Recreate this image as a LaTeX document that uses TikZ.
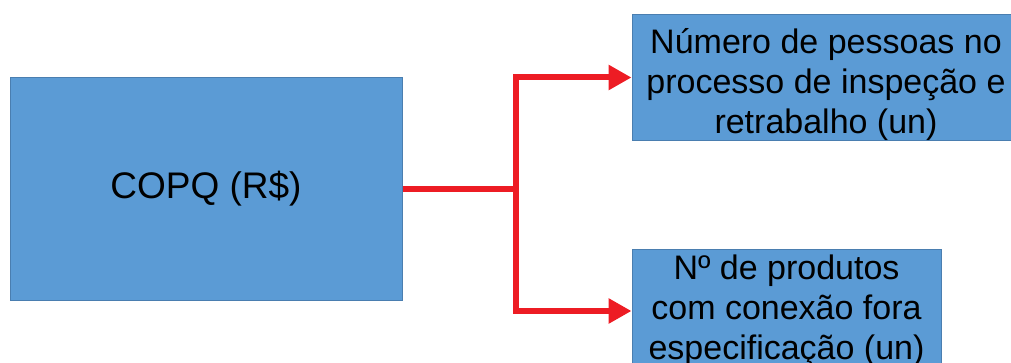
\documentclass[tikz,border=0pt]{standalone}
\usepackage{fontspec}
\setmainfont{Liberation Sans}
\usepackage{tikz}
\usetikzlibrary{arrows.meta}

\definecolor{boxblue}{HTML}{5B9BD5}
\definecolor{boxedge}{HTML}{4A7EB0}
\definecolor{linkred}{HTML}{ED1C24}

\tikzset{
  blockbox/.style={draw=boxedge, line width=1pt, fill=boxblue, align=center,
    inner sep=0pt, text=black},
  linkarrow/.style={draw=linkred, line width=6pt,
    -{Triangle[length=23pt,width=24pt]}},
}

\begin{document}
\begin{tikzpicture}[x=1pt,y=-1pt]
  \useasboundingbox (0,0) rectangle (1011,363);
  % Boxes
  \node[blockbox, minimum width=392pt, minimum height=222pt,
    font=\fontsize{37}{44}\selectfont] (copq) at (206,189) {COPQ (R\$)};
  \node[blockbox, minimum width=388pt, minimum height=123pt,
    font=\fontsize{34}{40}\selectfont] (pessoas) at (826,77.5)
    {\rule{0pt}{39pt}Número de pessoas no\\processo de inspeção e\\retrabalho (un)};
  \node[blockbox, minimum width=309pt, minimum height=123pt,
    font=\fontsize{34}{40}\selectfont] (produtos) at (786.5,311)
    {Nº de produtos\\com conexão fora\\especificação (un)};

  % Links
  \coordinate (fork) at (516,189);
  \draw[linkarrow] (copq.east) -- (fork) |- (pessoas.west);
  \draw[linkarrow] (copq.east) -- (fork) |- (produtos.west);
\end{tikzpicture}
\end{document}
